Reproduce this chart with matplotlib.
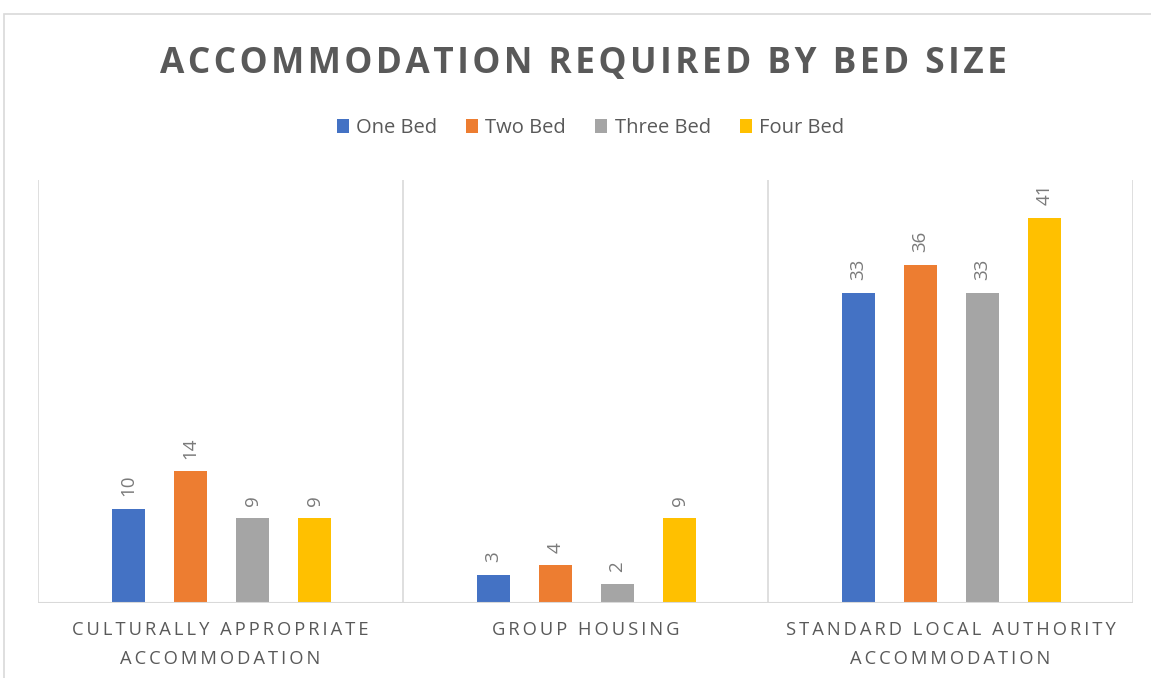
import numpy as np
import matplotlib.pyplot as plt
from matplotlib.patches import Rectangle

# Données du graphique
categories = ["CULTURALLY APPROPRIATE\nACCOMMODATION", "GROUP HOUSING",
              "STANDARD LOCAL AUTHORITY\nACCOMMODATION"]
series = ["One Bed", "Two Bed", "Three Bed", "Four Bed"]
one_bed = [10, 3, 33]
two_bed = [14, 4, 36]
three_bed = [9, 2, 33]
four_bed = [9, 9, 41]
valeurs = [one_bed, two_bed, three_bed, four_bed]
couleurs = ['#4472C4', '#ED7D31', '#A5A5A5', '#FFC000']

fam = ['Open Sans', 'DejaVu Sans']

def espace(s, sep='\u2009'):
    # espacement des lettres (pas d'option native dans matplotlib)
    return '\n'.join(sep.join(ligne) for ligne in s.split('\n'))

fig = plt.figure(figsize=(11.51, 6.78), dpi=100)
ax = fig.add_axes([38/1151, 1-603/678, (1133-38)/1151, (603-180)/678])

x = np.arange(len(categories))
largeur = 0.09
pas = 0.17
for i, (nom, vals, c) in enumerate(zip(series, valeurs, couleurs)):
    pos = x + (i-1.5)*pas + 0.003
    bars = ax.bar(pos, vals, largeur, color=c, label=nom, zorder=3)
    for b, v in zip(bars, vals):
        ax.annotate(str(v), (b.get_x()+b.get_width()/2, v), xytext=(0, 9),
                    textcoords='offset points', rotation=90, ha='center', va='bottom',
                    fontsize=13.5, color='#7a7a7a', family=fam)

ax.set_xlim(-0.5, 2.5)
ax.set_ylim(0, 45)
for s in ax.spines.values():
    s.set_visible(False)
ax.set_xticks([])
ax.set_yticks([])
for xv in [-0.5, 0.5, 1.5, 2.5]:
    ax.axvline(xv, color='#d9d9d9', lw=1.2, zorder=1)
ax.axhline(0, color='#d9d9d9', lw=1.5, zorder=4)

for xi, cat in zip(x, categories):
    ax.text(xi, -0.043, espace(cat), transform=ax.get_xaxis_transform(),
            ha='center', va='top', fontsize=13.2, color='#595959',
            family=fam, linespacing=1.75)

fig.text(0.507, 1-64/678, espace("ACCOMMODATION REQUIRED BY BED SIZE", '\u200a'),
         ha='center', va='center', fontsize=25.4, fontweight='bold',
         color='#595959', family=fam)

leg = fig.legend(loc='center', bbox_to_anchor=(0.513, 1-128/678), ncol=4, frameon=False,
                 handlelength=0.6, handleheight=0.75, handletextpad=0.35,
                 columnspacing=1.45, prop={'family': fam, 'size': 14.5})
for t in leg.get_texts():
    t.set_color('#595959')

# cadre du graphique
fig.patches.append(Rectangle((4/1151, -0.1), 1.2, 1.1-14/678, transform=fig.transFigure,
                             fill=False, ec='#d9d9d9', lw=1.2))

fig.savefig('out.png', dpi=100)
